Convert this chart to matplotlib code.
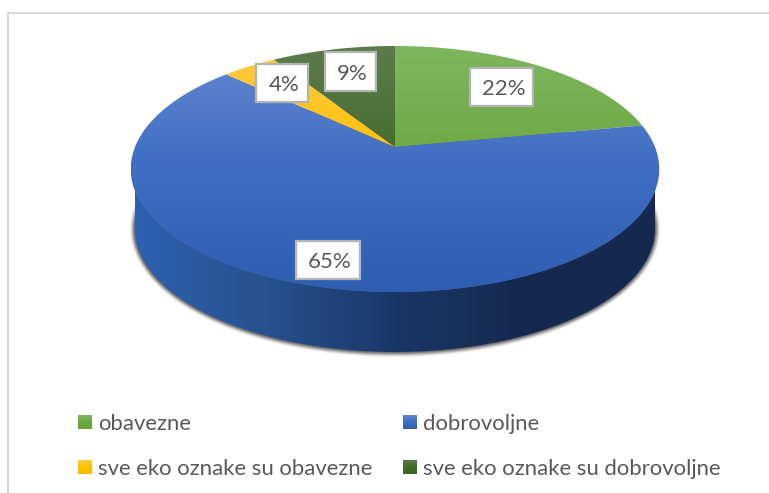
import numpy as np
import matplotlib
matplotlib.use("Agg")
import matplotlib.pyplot as plt
from matplotlib.colors import LinearSegmentedColormap
from matplotlib.patches import PathPatch, Rectangle
from matplotlib.path import Path

# data
labels = ["obavezne", "dobrovoljne", "sve eko oznake su obavezne", "sve eko oznake su dobrovoljne"]
values = [22, 65, 4, 9]

# vertical gradients of the top face, light to dark
gradients = [
    ["#7fb660", "#6aa83f", "#67a53c"],
    ["#6388d0", "#3f6dc3", "#2f5db1"],
    ["#ffca45", "#ffc000", "#fbbc00"],
    ["#5c7c4b", "#426b2b", "#3c6324"],
]
label_boxes = [(470, 68, 533, 106), (296, 241, 360, 279), (256, 64, 308, 102), (325, 52, 376, 91)]
legend_pos = [(78, 415), (403, 415), (78, 460), (403, 460)]

fig = plt.figure(figsize=(7.69, 4.93), dpi=100)
ax = fig.add_axes([0, 0, 1, 1])


# unit circle to pixels, back half shorter than the front (perspective)
def project(u, v):
    w = 1 + 0.179 * v
    return 395 + 260 * u / w, 147 - 119.1 * v / w


# fill a polygon with a gradient, clipped through imshow
def gradient_fill(xs, ys, colors, horizontal=False, span=None, zorder=3):
    cmap = LinearSegmentedColormap.from_list("g", colors)
    grad = np.linspace(0, 1, 256)
    grad = grad.reshape(1, -1) if horizontal else grad.reshape(-1, 1)
    lo, hi = span if span else ((min(xs), max(xs)) if horizontal else (min(ys), max(ys)))
    if horizontal:
        extent = (lo, hi, max(ys), min(ys))
    else:
        extent = (min(xs), max(xs), hi, lo)
    im = ax.imshow(grad, cmap=cmap, extent=extent, aspect="auto", origin="upper", zorder=zorder)
    clip = PathPatch(Path(np.column_stack([xs, ys])), transform=ax.transData, fc="none", ec="none")
    ax.add_patch(clip)
    im.set_clip_path(clip)


# soft shadow under the wall
tt = np.linspace(0, 2 * np.pi, 400)
for d, a in zip([5, 4, 3, 2, 1], [0.08, 0.14, 0.2, 0.28, 0.35]):
    ax.fill(395 + (260 + d) * np.cos(tt), 229 + (123 + d) * np.sin(tt), color="#333333", alpha=a, lw=0, zorder=1)

# side wall, only the big slice shows at the front
t = np.linspace(0, np.pi, 300)
top_x = 395 + 264 * np.cos(t)
top_y = 169 + 123 * np.sin(t)
bot_x = 395 + 260 * np.cos(t[::-1])
bot_y = 229 + 123 * np.sin(t[::-1])
gradient_fill(np.r_[top_x, bot_x], np.r_[top_y, bot_y],
              ["#2d60b0", "#27528f", "#1b3768", "#15294f", "#15294f"],
              horizontal=True, span=(135, 655), zorder=2)

# top face, clockwise from 12 o'clock
edges = np.cumsum([0] + values) / sum(values) * 2 * np.pi
for i in range(len(values)):
    a = np.linspace(edges[i], edges[i + 1], 200)
    x, y = project(np.sin(a), np.cos(a))
    cx, cy = project(0, 0)
    gradient_fill(np.r_[cx, x, cx], np.r_[cy, y, cy], gradients[i], span=(46, 292), zorder=3 + i * 0.1)

# percent labels
for val, box in zip(values, label_boxes):
    x0, y0, x1, y1 = box
    ax.add_patch(Rectangle((x0, y0), x1 - x0, y1 - y0, fc="white", ec="#b3b3b3", lw=1.6, zorder=5))
    ax.text((x0 + x1) / 2 + 2, (y0 + y1) / 2, f"{val}%", ha="center", va="center_baseline",
            fontsize=16, color="#595959", family="Lato", zorder=6)

# legend
for i, (name, pos) in enumerate(zip(labels, legend_pos)):
    x, y = pos
    gradient_fill([x, x + 14, x + 14, x, x], [y, y, y + 14, y + 14, y], gradients[i], zorder=3)
    ax.text(x + 20, y + 7, name, ha="left", va="center_baseline", fontsize=15.9,
            color="#595959", family="Lato", zorder=6)

# chart frame, cut off at the right and bottom
ax.plot([8, 8, 769], [493, 13, 13], color="#d9d9d9", lw=1.5, zorder=0, solid_joinstyle="miter")

ax.set_xlim(0, 769)
ax.set_ylim(493, 0)
ax.axis("off")

fig.savefig("out.png", dpi=100)
